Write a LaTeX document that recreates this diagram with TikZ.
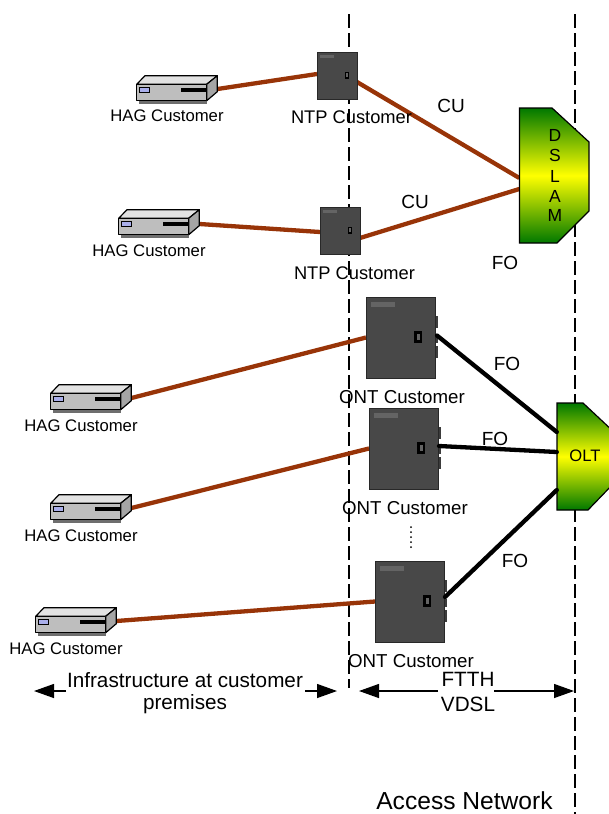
\documentclass[tikz,border=0pt]{standalone}
\usepackage{fontspec}
\setmainfont{Liberation Sans}
\usetikzlibrary{arrows.meta}
\definecolor{cable}{RGB}{152,52,8}
\definecolor{boxdark}{RGB}{72,72,72}
\definecolor{boxedge}{RGB}{40,40,40}
\definecolor{boxlight}{RGB}{100,100,100}
\definecolor{sidebump}{RGB}{60,60,60}
\definecolor{hagfront}{RGB}{190,190,190}
\definecolor{hagtop}{RGB}{226,226,226}
\definecolor{hagside}{RGB}{165,165,165}
\definecolor{hagbase}{RGB}{110,110,110}
\definecolor{hagled}{RGB}{170,175,235}
\definecolor{gdark}{RGB}{0,120,0}
\tikzset{
  x=1pt,y=-1pt,
  haganchor/.style={rectangle,inner sep=0pt,outer sep=0pt,minimum width=81pt,minimum height=28pt},
  ntpanchor/.style={rectangle,inner sep=0pt,outer sep=0pt,minimum width=40pt,minimum height=47pt},
  ontanchor/.style={rectangle,inner sep=0pt,outer sep=0pt,minimum width=69pt,minimum height=81pt},
  boundary/.style={draw=black,line width=1.3pt,dash pattern=on 14pt off 5pt},
  coax/.style={draw=cable,line width=4.3pt},
  fibre/.style={draw=black,line width=4.3pt,line cap=round},
  span/.style={draw=black,line width=1.3pt,-{Triangle[length=20pt,width=14pt]}},
  hagtext/.style={font=\fontsize{16.7}{18}\selectfont,inner sep=0pt},
  ntptext/.style={font=\fontsize{18.3}{20}\selectfont,inner sep=0pt},
  onttext/.style={font=\fontsize{18.7}{20}\selectfont,inner sep=0pt},
  linktext/.style={font=\fontsize{19}{21}\selectfont,inner sep=0pt},
  spantext/.style={font=\fontsize{20.7}{24}\selectfont,inner sep=0pt},
  letter/.style={font=\fontsize{17.5}{20}\selectfont,inner sep=0pt},
  mainframe/.style={draw=black,line width=1.2pt,top color=gdark,bottom color=gdark,middle color=yellow},
  pics/hagart/.style={code={
    \fill[hagbase] (2,25) rectangle (70,28.5);
    \draw[black,line width=1.2pt,fill=hagtop,line join=round] (0,9.3)--(8.3,.7)--(80.6,.7)--(70,9.3)--cycle;
    \draw[black,line width=1.2pt,fill=hagside,line join=round] (70,9.3)--(80.6,.7)--(80.6,16.7)--(70,25.7)--cycle;
    \draw[black,line width=1.2pt,fill=hagfront,line join=round] (0,9.3) rectangle (70,25.7);
    \draw[black,line width=1pt,fill=hagled] (2.6,12.3) rectangle (12.3,17);
    \fill[black] (44.3,12.7) rectangle (69,16.7);
  }},
  pics/cabinet/.style={code={
    \fill[sidebump] (68,19) rectangle (71.5,31);
    \fill[sidebump] (68,38) rectangle (71.5,46);
    \fill[sidebump] (68,49) rectangle (71.5,61);
    \draw[boxedge,line width=.8pt,fill=boxdark] (0,0) rectangle (69,81);
    \fill[boxlight] (5,5) rectangle (29,10);
    \fill[black] (48,34) rectangle (56,46);
    \fill[boxlight] (50.5,37) rectangle (53.5,43);
  }}
}
\begin{document}
\begin{tikzpicture}
\useasboundingbox (0,0) rectangle (609,814);
\clip (0,0) rectangle (609,814);
% anchor nodes
\node[haganchor] (h1) at (177,89) {};
\node[haganchor] (h2) at (159,223) {};
\node[haganchor] (h3) at (91,398) {};
\node[haganchor] (h4) at (91,508) {};
\node[haganchor] (h5) at (76,621) {};
\node[ntpanchor] (n1) at (337,75.5) {};
\node[ntpanchor] (n2) at (340,230.5) {};
\node[ontanchor] (o1) at (400.5,337.5) {};
\node[ontanchor] (o2) at (403.5,448.5) {};
\node[ontanchor] (o3) at (409.5,601.5) {};
\node[rectangle,inner sep=0pt,minimum width=70pt,minimum height=135pt] (dslam) at (554.5,176) {};
\node[rectangle,inner sep=0pt,minimum width=56pt,minimum height=107pt] (olt) at (585,456.5) {};
\coordinate (bAtop) at (349,14);
\coordinate (bAbot) at (349,688);
\coordinate (bBtop) at (575,14);
\coordinate (bBbot) at (575,814);
\coordinate (dotsA) at (411,527);
\coordinate (dotsB) at (411,551);
% boundaries
\draw[boundary] (bAtop) -- (bAbot);
\draw[boundary] (bBtop) -- (bBbot);
% copper and indoor cables
\draw[coax] (h1.east) -- ([yshift=1.5pt]n1.west);
\draw[coax] ([yshift=-1pt]h2.east) -- ([yshift=-1.5pt]n2.west);
\draw[coax] (h3.east) -- (o1.west);
\draw[coax] (h4.east) -- (o2.west);
\draw[coax] (h5.east) -- (o3.west);
\draw[coax] ([yshift=-6.5pt]n1.east) -- ([yshift=-2pt]dslam.west);
\draw[coax] ([yshift=-7.5pt]n2.east) -- ([yshift=-13pt]dslam.west);
% DSLAM and OLT
\path[mainframe] (519.5,108) -- (552,108) -- (589,142) -- (589,211) -- (557,243) -- (519.5,243) -- cycle;
\path[mainframe] (557,403) -- (583,403) -- (615,433) -- (615,482) -- (588,510) -- (557,510) -- cycle;
% devices
\pic at (136.7,75) {hagart};
\pic at (118.7,209) {hagart};
\pic at (50.7,384) {hagart};
\pic at (50.7,494) {hagart};
\pic at (35.7,607) {hagart};
\pic[scale=.58] at (317,52) {cabinet};
\pic[scale=.58] at (320,207) {cabinet};
\pic at (366,297) {cabinet};
\pic at (369,408) {cabinet};
\pic at (375,561) {cabinet};
% fibres
\draw[fibre] ([yshift=2pt,xshift=2pt]o1.east) -- ([yshift=24.5pt]olt.west);
\draw[fibre] ([yshift=2.5pt,xshift=1pt]o2.east) -- ([yshift=4.5pt]olt.west);
\draw[fibre] ([yshift=4.5pt,xshift=1pt]o3.east) -- ([yshift=-33.5pt]olt.west);
\draw[black,line width=2pt,line cap=round,dash pattern=on 0pt off 5pt] (dotsA) -- (dotsB);
% labels
\node[hagtext] at (167,116) {HAG Customer};
\node[hagtext] at (149,251) {HAG Customer};
\node[hagtext] at (81,426) {HAG Customer};
\node[hagtext] at (81,536) {HAG Customer};
\node[hagtext] at (66,649) {HAG Customer};
\node[ntptext] at (351.5,117) {NTP Customer};
\node[ntptext] at (354.5,273) {NTP Customer};
\node[onttext] at (402,397) {ONT Customer};
\node[onttext] at (405,508) {ONT Customer};
\node[onttext] at (411,661) {ONT Customer};
\node[linktext] at (451,106) {CU};
\node[linktext] at (415,202) {CU};
\node[linktext] at (505,263) {FO};
\node[linktext] at (507,364) {FO};
\node[linktext] at (495,439) {FO};
\node[linktext] at (515,561) {FO};
\node[letter] at (555,135) {D};
\node[letter] at (555,155) {S};
\node[letter] at (555,176) {L};
\node[letter] at (555,196.5) {A};
\node[letter] at (555,215) {M};
\node[font=\fontsize{16.6}{18}\selectfont,inner sep=0pt] at (585,456) {OLT};
% bottom spans
\node[spantext] (infra) at (185,680) {Infrastructure at customer};
\node[spantext] (prem) at (185,704) {premises};
\node[spantext] (ftth) at (468,679) {FTTH};
\node[spantext] (vdsl) at (468,704) {VDSL};
\node[font=\fontsize{24.6}{27}\selectfont,inner sep=0pt] (access) at (464.5,801) {Access Network};
\coordinate (a1s) at (66,691);
\coordinate (a1e) at (34,691);
\coordinate (a2s) at (305,691);
\coordinate (a2e) at (337,691);
\coordinate (a3s) at (438,691);
\coordinate (a3e) at (359,691);
\coordinate (a4s) at (494,691);
\coordinate (a4e) at (574,691);
\draw[span] (a1s) -- (a1e);
\draw[span] (a2s) -- (a2e);
\draw[span] (a3s) -- (a3e);
\draw[span] (a4s) -- (a4e);
\end{tikzpicture}
\end{document}
